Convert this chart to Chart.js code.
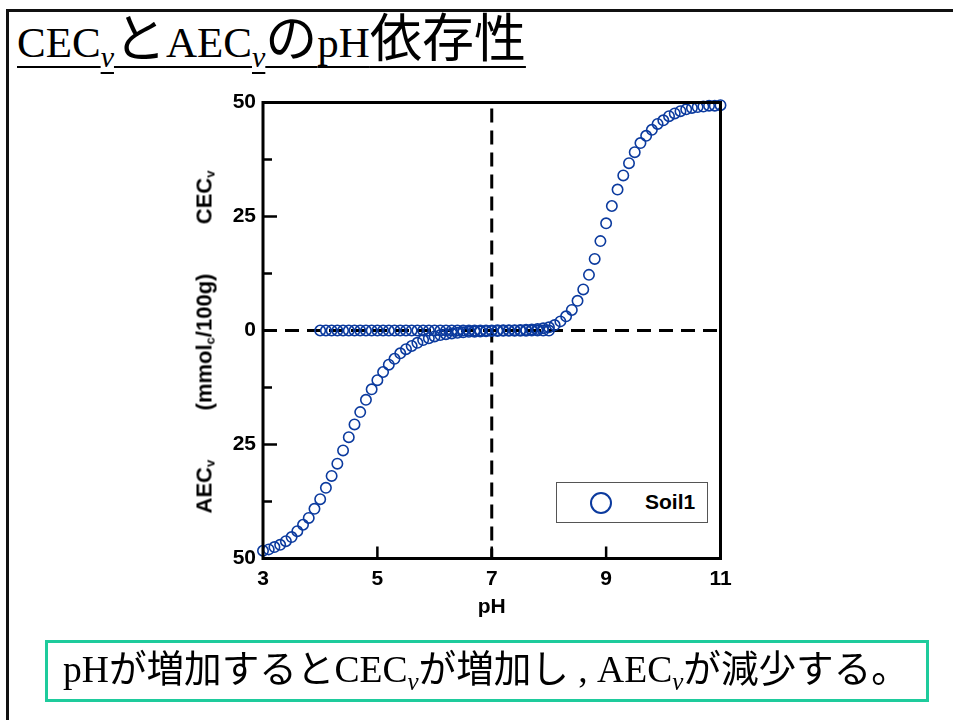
<!DOCTYPE html>
<html>
<head>
<meta charset="utf-8">
<script src="https://cdn.jsdelivr.net/npm/chart.js@4.4.1/dist/chart.umd.min.js"></script>
<style>
  html, body { margin: 0; padding: 0; width: 953px; height: 720px; overflow: hidden; background: #fff; }
  #frame { position: absolute; left: 6px; top: 9px; width: 1000px; height: 800px;
           border-left: 3px solid #111; border-top: 3px solid #111; }
  #chartBox { position: absolute; left: 0; top: 0; width: 953px; height: 720px; }
  .serifjp { font-family: "Liberation Serif", "Noto Sans CJK JP", serif; }
  #title { position: absolute; left: 17px; top: 10px; height: 60px; font-size: 43px; line-height: 60px; white-space: nowrap; color: #000; }
  #title .u { text-decoration: underline; text-decoration-thickness: 2px; text-underline-offset: 9px; }
  #title .jp { font-size: 52px; }
  #title .sub { display: inline-block; font-style: italic; font-size: 30px; vertical-align: -0.32em; line-height: 30px;
                text-decoration: underline; text-decoration-thickness: 2px; text-underline-offset: 5px; }
  #ytitle { position: absolute; left: 32.5px; top: 329.5px; width: 343px; height: 24px;
            transform: rotate(-90deg); transform-origin: 50% 50%;
            display: flex; justify-content: space-between; align-items: center;
            font: bold 22px "Liberation Sans", Arial, sans-serif; line-height: 24px; color: #000; white-space: nowrap; }
  #ytitle sub { font-size: 13px; vertical-align: -3px; line-height: 0; }
  #legend { position: absolute; left: 556px; top: 482px; width: 150px; height: 39px; border: 1px solid #555; background: #fff; }
  #legend .mk { position: absolute; left: 33px; top: 8.5px; width: 18px; height: 18px; border: 2px solid #0b3a9e; border-radius: 50%; }
  #legend .lb { position: absolute; left: 88px; top: 7px; font: bold 21px "Liberation Sans", Arial, sans-serif; line-height: 24px; color: #000; }
  #note { position: absolute; left: 45px; top: 640px; width: 878px; height: 56px; border: 3px solid #1ecb9c; }
  #note .txt { position: absolute; left: 15px; top: 5px; font-size: 37.6px; line-height: 44px; white-space: nowrap; color: #000; }
  #note .sub { font-style: italic; font-size: 25px; vertical-align: -0.3em; }
</style>
</head>
<body>
<div id="frame"></div>
<div id="title" class="serifjp"><span class="u">CEC</span><span class="sub">v</span><span class="u"><span class="jp">と</span>AEC</span><span class="sub">v</span><span class="u"><span class="jp">の</span>pH<span class="jp">依存性</span></span></div>
<div id="chartBox"><canvas id="c" width="953" height="720"></canvas></div>
<div id="ytitle"><span>AEC<sub>v</sub></span><span>(mmol<sub>c</sub>/100g)</span><span>CEC<sub>v</sub></span></div>
<div id="legend"><div class="mk"></div><div class="lb">Soil1</div></div>
<div id="note"><div class="txt serifjp">pHが増加するとCEC<span class="sub">v</span>が増加し , AEC<span class="sub">v</span>が減少する。</div></div>
<script>
// pH values for the anion-exchange branch (3.0 - 8.0)
const phAEC = [3.0, 3.1, 3.2, 3.3, 3.4, 3.5, 3.6, 3.7, 3.8, 3.9,
               4.0, 4.1, 4.2, 4.3, 4.4, 4.5, 4.6, 4.7, 4.8, 4.9,
               5.0, 5.1, 5.2, 5.3, 5.4, 5.5, 5.6, 5.7, 5.8, 5.9,
               6.0, 6.1, 6.2, 6.3, 6.4, 6.5, 6.6, 6.7, 6.8, 6.9,
               7.0, 7.1, 7.2, 7.3, 7.4, 7.5, 7.6, 7.7, 7.8, 7.9, 8.0];
// AEC_v plotted downward (negative), mmol_c/100g
const aecValues = [-48.3, -48.0, -47.5, -47.0, -46.2, -45.3, -44.0, -42.6, -41.1, -39.1,
                   -37.0, -34.5, -31.9, -29.2, -26.3, -23.4, -20.6, -17.9, -15.2, -12.9,
                   -10.9, -9.1, -7.5, -6.2, -5.0, -4.1, -3.4, -2.7, -2.1, -1.7,
                   -1.3, -1.0, -0.8, -0.65, -0.5, -0.4, -0.3, -0.25, -0.2, -0.15,
                   -0.12, -0.1, -0.08, -0.06, -0.05, -0.04, -0.03, -0.02, -0.02, -0.01, -0.01];
// pH values for the cation-exchange branch (4.0 - 11.0)
const phCEC = [4.0, 4.1, 4.2, 4.3, 4.4, 4.5, 4.6, 4.7, 4.8, 4.9,
               5.0, 5.1, 5.2, 5.3, 5.4, 5.5, 5.6, 5.7, 5.8, 5.9,
               6.0, 6.1, 6.2, 6.3, 6.4, 6.5, 6.6, 6.7, 6.8, 6.9,
               7.0, 7.1, 7.2, 7.3, 7.4, 7.5, 7.6, 7.7, 7.8, 7.9,
               8.0, 8.1, 8.2, 8.3, 8.4, 8.5, 8.6, 8.7, 8.8, 8.9,
               9.0, 9.1, 9.2, 9.3, 9.4, 9.5, 9.6, 9.7, 9.8, 9.9,
               10.0, 10.1, 10.2, 10.3, 10.4, 10.5, 10.6, 10.7, 10.8, 10.9, 11.0];
const cecValues = [0, 0, 0, 0, 0, 0, 0, 0, 0, 0,
                   0, 0, 0, 0, 0, 0, 0, 0, 0, 0,
                   0, 0, 0, 0, 0, 0, 0, 0, 0, 0.01,
                   0.02, 0.03, 0.04, 0.06, 0.08, 0.1, 0.15, 0.22, 0.32, 0.48,
                   0.7, 1.2, 2.0, 3.1, 4.5, 6.5, 9.0, 12.2, 15.7, 19.6,
                   23.5, 27.3, 30.9, 34.0, 36.7, 39.1, 41.1, 42.7, 44.0, 45.3,
                   46.1, 47.0, 47.6, 48.1, 48.5, 48.8, 49.0, 49.1, 49.3, 49.3, 49.4];

const seriesName = 'Soil1';
const xTickValues = [3, 5, 7, 9, 11];
const yTickValues = [-50, -25, 0, 25, 50];
const yMinorTicks = [-37.5, -12.5, 12.5, 37.5];
const neutralPH = 7;

const markerColor = '#0b3a9e';
const axisFont = { family: '"Liberation Sans", Arial, sans-serif', size: 21, weight: 'bold' };

const toPoints = (xs, ys) => xs.map((v, i) => ({ x: v, y: ys[i] }));

// Dashed reference lines, the closed frame and inward tick marks
const frameAndMarks = {
  id: 'frameAndMarks',
  beforeDatasetsDraw(chart) {
    const { ctx, chartArea: a, scales: { x, y } } = chart;
    ctx.save();
    ctx.strokeStyle = '#000';
    ctx.lineWidth = 3;
    ctx.setLineDash([14, 8]);
    const y0 = y.getPixelForValue(0);
    const x7 = x.getPixelForValue(neutralPH);
    ctx.beginPath(); ctx.moveTo(a.left, y0); ctx.lineTo(a.right, y0); ctx.stroke();
    ctx.lineDashOffset = -6;
    ctx.beginPath(); ctx.moveTo(x7, a.top); ctx.lineTo(x7, a.bottom); ctx.stroke();
    ctx.restore();
  },
  afterDatasetsDraw(chart) {
    const { ctx, chartArea: a, scales: { x, y } } = chart;
    ctx.save();
    ctx.strokeStyle = '#000';
    ctx.lineWidth = 2.5;
    ctx.beginPath();
    yTickValues.slice(1, -1).forEach(v => {
      const p = y.getPixelForValue(v);
      ctx.moveTo(a.left, p); ctx.lineTo(a.left + 14, p);
    });
    yMinorTicks.forEach(v => {
      const p = y.getPixelForValue(v);
      ctx.moveTo(a.left, p); ctx.lineTo(a.left + 9, p);
    });
    xTickValues.slice(1, -1).forEach(v => {
      const p = x.getPixelForValue(v);
      ctx.moveTo(p, a.bottom); ctx.lineTo(p, a.bottom - 12);
    });
    ctx.stroke();
    ctx.lineWidth = 3;
    ctx.strokeRect(a.left, a.top, a.right - a.left, a.bottom - a.top);
    ctx.restore();
  }
};

const pointStyle = {
  showLine: false,
  pointStyle: 'circle',
  pointRadius: 5.2,
  pointHoverRadius: 5.2,
  pointBorderWidth: 1.6,
  borderColor: markerColor,
  pointBorderColor: markerColor,
  backgroundColor: 'rgba(0,0,0,0)',
  pointBackgroundColor: 'rgba(0,0,0,0)',
  clip: false
};

new Chart(document.getElementById('c'), {
  type: 'scatter',
  data: {
    datasets: [
      Object.assign({ label: seriesName, data: toPoints(phCEC, cecValues) }, pointStyle),
      Object.assign({ label: seriesName, data: toPoints(phAEC, aecValues) }, pointStyle)
    ]
  },
  options: {
    responsive: false,
    animation: false,
    layout: { padding: { left: 203, top: 102.5, right: 232.5, bottom: 99.5 } },
    plugins: { legend: { display: false }, tooltip: { enabled: false } },
    scales: {
      x: {
        type: 'linear', min: 3, max: 11,
        afterBuildTicks: s => { s.ticks = xTickValues.map(v => ({ value: v })); },
        afterFit: s => { s.height = 62; },
        grid: { display: false, drawTicks: false },
        border: { display: false },
        ticks: { color: '#000', font: axisFont, padding: 8, maxRotation: 0, autoSkip: false },
        title: { display: true, text: 'pH', color: '#000', font: axisFont, padding: { top: 0, bottom: 1 } }
      },
      y: {
        type: 'linear', min: -50, max: 50,
        afterBuildTicks: s => { s.ticks = yTickValues.map(v => ({ value: v })); },
        afterFit: s => { s.width = 60; },
        grid: { display: false, drawTicks: false },
        border: { display: false },
        ticks: { color: '#000', font: axisFont, padding: 7, autoSkip: false,
                 callback: v => String(Math.abs(v)) }
      }
    }
  },
  plugins: [frameAndMarks]
});
</script>
</body>
</html>
